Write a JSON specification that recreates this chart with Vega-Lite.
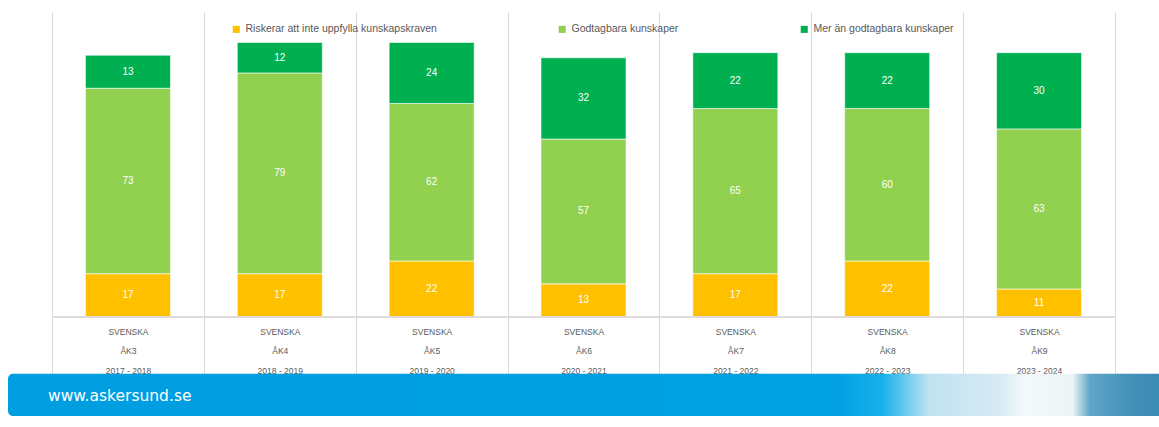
{
  "$schema": "https://vega.github.io/schema/vega-lite/v6.json",
  "width": 1151,
  "height": 404,
  "autosize": {"type": "none"},
  "padding": {"left": 8, "top": 12, "right": 0, "bottom": 11},
  "background": "white",
  "config": {"view": {"stroke": null}, "font": "Liberation Sans"},
  "datasets": {
    "scores": [
      {"klass": "SVENSKA|ÅK3|2017  - 2018", "serie": "Riskerar att inte uppfylla kunskapskraven", "ord": 1, "value": 17},
      {"klass": "SVENSKA|ÅK3|2017  - 2018", "serie": "Godtagbara kunskaper", "ord": 2, "value": 73},
      {"klass": "SVENSKA|ÅK3|2017  - 2018", "serie": "Mer än godtagbara kunskaper", "ord": 3, "value": 13},
      {"klass": "SVENSKA|ÅK4|2018  - 2019", "serie": "Riskerar att inte uppfylla kunskapskraven", "ord": 1, "value": 17},
      {"klass": "SVENSKA|ÅK4|2018  - 2019", "serie": "Godtagbara kunskaper", "ord": 2, "value": 79},
      {"klass": "SVENSKA|ÅK4|2018  - 2019", "serie": "Mer än godtagbara kunskaper", "ord": 3, "value": 12},
      {"klass": "SVENSKA|ÅK5|2019  - 2020", "serie": "Riskerar att inte uppfylla kunskapskraven", "ord": 1, "value": 22},
      {"klass": "SVENSKA|ÅK5|2019  - 2020", "serie": "Godtagbara kunskaper", "ord": 2, "value": 62},
      {"klass": "SVENSKA|ÅK5|2019  - 2020", "serie": "Mer än godtagbara kunskaper", "ord": 3, "value": 24},
      {"klass": "SVENSKA|ÅK6|2020  - 2021", "serie": "Riskerar att inte uppfylla kunskapskraven", "ord": 1, "value": 13},
      {"klass": "SVENSKA|ÅK6|2020  - 2021", "serie": "Godtagbara kunskaper", "ord": 2, "value": 57},
      {"klass": "SVENSKA|ÅK6|2020  - 2021", "serie": "Mer än godtagbara kunskaper", "ord": 3, "value": 32},
      {"klass": "SVENSKA|ÅK7|2021  - 2022", "serie": "Riskerar att inte uppfylla kunskapskraven", "ord": 1, "value": 17},
      {"klass": "SVENSKA|ÅK7|2021  - 2022", "serie": "Godtagbara kunskaper", "ord": 2, "value": 65},
      {"klass": "SVENSKA|ÅK7|2021  - 2022", "serie": "Mer än godtagbara kunskaper", "ord": 3, "value": 22},
      {"klass": "SVENSKA|ÅK8|2022  - 2023", "serie": "Riskerar att inte uppfylla kunskapskraven", "ord": 1, "value": 22},
      {"klass": "SVENSKA|ÅK8|2022  - 2023", "serie": "Godtagbara kunskaper", "ord": 2, "value": 60},
      {"klass": "SVENSKA|ÅK8|2022  - 2023", "serie": "Mer än godtagbara kunskaper", "ord": 3, "value": 22},
      {"klass": "SVENSKA|ÅK9|2023  - 2024", "serie": "Riskerar att inte uppfylla kunskapskraven", "ord": 1, "value": 11},
      {"klass": "SVENSKA|ÅK9|2023  - 2024", "serie": "Godtagbara kunskaper", "ord": 2, "value": 63},
      {"klass": "SVENSKA|ÅK9|2023  - 2024", "serie": "Mer än godtagbara kunskaper", "ord": 3, "value": 30}
    ],
    "banner": [{"site": "www.askersund.se", "klass": "SVENSKA|ÅK3|2017  - 2018"}]
  },
  "layer": [
    {
      "data": {"name": "scores"},
      "mark": {"type": "bar", "width": {"band": 0.56}, "stroke": "white", "strokeWidth": 0.6},
      "encoding": {
        "x": {
          "field": "klass",
          "type": "nominal",
          "sort": null,
          "scale": {"paddingInner": 0, "paddingOuter": 0.29},
          "axis": {
            "title": null,
            "orient": "bottom",
            "offset": -99,
            "domain": false,
            "tickBand": "extent",
            "ticks": true,
            "tickSize": 58,
            "tickColor": "#D9D9D9",
            "grid": true,
            "gridColor": "#D9D9D9",
            "gridWidth": 1,
            "labelExpr": "datum.value ? split(datum.value, '|') : ''",
            "labelAngle": 0,
            "labelFontSize": 8.5,
            "labelColor": "#595959",
            "labelLineHeight": 19.5,
            "labelPadding": -48,
            "labelBaseline": "top"
          }
        },
        "y": {
          "field": "value",
          "type": "quantitative",
          "stack": "zero",
          "scale": {"domain": [-39, 120], "nice": false, "zero": false},
          "axis": null
        },
        "color": {
          "field": "serie",
          "type": "nominal",
          "scale": {
            "domain": ["Riskerar att inte uppfylla kunskapskraven", "Godtagbara kunskaper", "Mer än godtagbara kunskaper"],
            "range": ["#FFC000", "#92D050", "#00B050"]
          },
          "legend": {
            "title": null,
            "orient": "none",
            "legendX": 223,
            "legendY": 12,
            "direction": "horizontal",
            "symbolType": "square",
            "symbolSize": 50,
            "symbolStrokeWidth": 0,
            "labelFontSize": 10.5,
            "labelColor": "#595959",
            "labelOffset": 4,
            "columnPadding": 120,
            "labelLimit": 300
          }
        },
        "order": {"field": "ord", "type": "quantitative"}
      }
    },
    {
      "data": {"name": "scores"},
      "mark": {"type": "tick", "orient": "horizontal", "size": 152, "thickness": 1, "color": "#D9D9D9", "opacity": 1},
      "encoding": {
        "x": {"field": "klass", "type": "nominal", "sort": null},
        "y": {"datum": 0, "type": "quantitative"}
      }
    },
    {
      "data": {"name": "scores"},
      "mark": {"type": "text", "color": "white", "fontSize": 10},
      "encoding": {
        "x": {"field": "klass", "type": "nominal", "sort": null},
        "y": {"field": "value", "type": "quantitative", "stack": "zero", "bandPosition": 0.5},
        "detail": {"field": "serie"},
        "order": {"field": "ord", "type": "quantitative"},
        "text": {"field": "value", "type": "quantitative"}
      }
    },
    {
      "data": {"name": "banner"},
      "mark": {
        "type": "rect",
        "cornerRadiusTopLeft": 5,
        "cornerRadiusBottomLeft": 5,
        "fill": {
          "gradient": "linear",
          "x1": 0, "y1": 0, "x2": 1, "y2": 0,
          "stops": [
            {"offset": 0, "color": "#009EE0"},
            {"offset": 0.72, "color": "#00A0E3"},
            {"offset": 0.76, "color": "#18B2EA"},
            {"offset": 0.8, "color": "#BFE2F1"},
            {"offset": 0.86, "color": "#D6EAF3"},
            {"offset": 0.885, "color": "#F4F9FB"},
            {"offset": 0.925, "color": "#EDF4F7"},
            {"offset": 0.94, "color": "#5EA6C7"},
            {"offset": 0.97, "color": "#4693BB"},
            {"offset": 1, "color": "#3A8AB4"}
          ]
        }
      },
      "encoding": {
        "y": {"datum": -39, "type": "quantitative"},
        "y2": {"datum": -22.4}
      }
    },
    {
      "data": {"name": "banner"},
      "mark": {"type": "text", "color": "white", "font": "DejaVu Sans", "fontSize": 15.5, "align": "left", "baseline": "middle", "dx": -80},
      "encoding": {
        "x": {"field": "klass", "type": "nominal", "sort": null},
        "y": {"datum": -31, "type": "quantitative"},
        "text": {"field": "site", "type": "nominal"}
      }
    }
  ]
}
